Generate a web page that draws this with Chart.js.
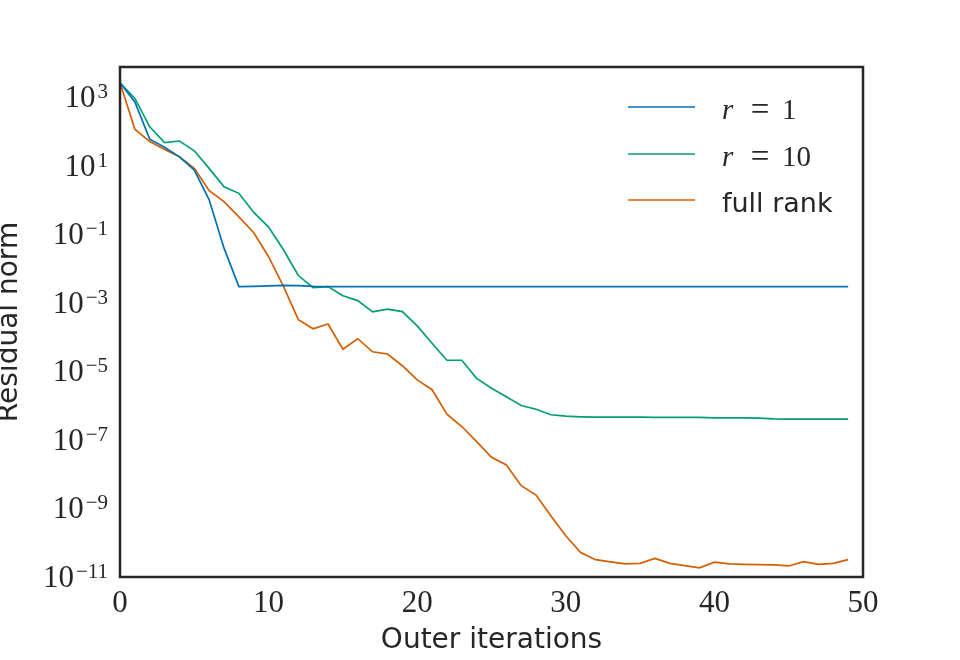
<!DOCTYPE html>
<html>
<head>
<meta charset="utf-8">
<script src="https://cdn.jsdelivr.net/npm/chart.js@4.4.1/dist/chart.umd.min.js"></script>
<style>
  html, body { margin: 0; padding: 0; background: #ffffff; }
  #wrap { width: 960px; height: 660px; position: relative; }
</style>
</head>
<body>
<div id="wrap"><canvas id="c" width="960" height="660"></canvas></div>
<script>
// ---- data ----
const iterations = Array.from({length: 50}, (_, i) => i); // 0..49 outer iterations
const seriesLabels = ['r = 1', 'r = 10', 'full rank'];
const rankOne = [2.6e3, 7.2e2, 5.9e1, 3.4e1, 1.8e1, 7.4, 1.0, 3.9e-2, 2.95e-3, 3.0e-3,
  3.1e-3, 3.2e-3, 3.15e-3, 3.0e-3, 2.95e-3, 2.95e-3, 2.95e-3, 2.95e-3, 2.95e-3, 2.95e-3,
  2.95e-3, 2.95e-3, 2.95e-3, 2.95e-3, 2.95e-3, 2.95e-3, 2.95e-3, 2.95e-3, 2.95e-3, 2.95e-3,
  2.95e-3, 2.95e-3, 2.95e-3, 2.95e-3, 2.95e-3, 2.95e-3, 2.95e-3, 2.95e-3, 2.95e-3, 2.95e-3,
  2.95e-3, 2.95e-3, 2.95e-3, 2.95e-3, 2.95e-3, 2.95e-3, 2.95e-3, 2.95e-3, 2.95e-3, 2.95e-3];
const rankTen = [2.6e3, 9.1e2, 1.35e2, 4.7e1, 5.2e1, 2.7e1, 8.3, 2.4, 1.55, 4.3e-1,
  1.6e-1, 3.5e-2, 6.2e-3, 2.75e-3, 2.95e-3, 1.6e-3, 1.15e-3, 5.4e-4, 6.5e-4, 5.5e-4,
  2.1e-4, 6.6e-5, 2.1e-5, 2.1e-5, 6.2e-6, 3.2e-6, 1.8e-6, 1.0e-6, 7.8e-7, 5.4e-7,
  4.9e-7, 4.7e-7, 4.6e-7, 4.6e-7, 4.6e-7, 4.6e-7, 4.5e-7, 4.5e-7, 4.5e-7, 4.5e-7,
  4.4e-7, 4.4e-7, 4.4e-7, 4.3e-7, 4.1e-7, 4.0e-7, 4.0e-7, 4.0e-7, 4.0e-7, 4.0e-7];
const fullRank = [2.6e3, 1.15e2, 5.0e1, 2.95e1, 1.8e1, 8.3, 1.86, 8.9e-1, 3.2e-1, 1.1e-1,
  2.2e-2, 3.0e-3, 3.2e-4, 1.74e-4, 2.4e-4, 4.4e-5, 8.9e-5, 3.7e-5, 3.2e-5, 1.45e-5,
  5.6e-6, 2.9e-6, 5.6e-7, 2.45e-7, 8.9e-8, 3.1e-8, 1.86e-8, 4.6e-9, 2.45e-9, 6.0e-10,
  1.6e-10, 5.2e-11, 3.2e-11, 2.75e-11, 2.4e-11, 2.5e-11, 3.5e-11, 2.5e-11, 2.15e-11, 1.86e-11,
  2.7e-11, 2.4e-11, 2.35e-11, 2.3e-11, 2.25e-11, 2.1e-11, 2.8e-11, 2.35e-11, 2.5e-11, 3.2e-11];
const xTicks = [0, 10, 20, 30, 40, 50];
const yTickExponents = [-11, -9, -7, -5, -3, -1, 1, 3];
const xTitle = 'Outer iterations';
const yTitle = 'Residual norm';

// ---- styles ----
const colors = ['#0072B2', '#009E73', '#D55E00'];
const textColor = '#262626';
const serif = "'Liberation Serif', 'DejaVu Serif', serif";
const sans = "'DejaVu Sans', 'Noto Sans', sans-serif";

function toPoints(arr) { return iterations.map((x, i) => ({x: x, y: arr[i]})); }
const seriesData = [rankOne, rankTen, fullRank];

// frame around the plot area
const framePlugin = {
  id: 'frame',
  afterDatasetsDraw(chart) {
    const a = chart.chartArea, ctx = chart.ctx;
    ctx.save();
    ctx.strokeStyle = textColor;
    ctx.lineWidth = 2.5;
    ctx.strokeRect(a.left, a.top, a.right - a.left, a.bottom - a.top);
    ctx.restore();
  }
};

// y tick labels as 10 with a raised exponent, placed at the scale's tick pixels
const logTickPlugin = {
  id: 'logTicks',
  afterDraw(chart) {
    const s = chart.scales.y, ctx = chart.ctx;
    const right = s.right - 12;
    ctx.save();
    ctx.fillStyle = textColor;
    ctx.textBaseline = 'alphabetic';
    ctx.textAlign = 'right';
    s.ticks.forEach(t => {
      const y = s.getPixelForValue(t.value);
      const e = Math.round(Math.log10(t.value));
      const expText = (e < 0 ? '\u2212' : '') + Math.abs(e);
      ctx.font = '21px ' + serif;
      const ew = ctx.measureText(expText).width;
      ctx.fillText(expText, right, y + 1);
      ctx.font = '31px ' + serif;
      ctx.fillText('10', right - ew - 2, y + 10);
    });
    ctx.restore();
  }
};

// legend inside the plot, upper right
const legendPlugin = {
  id: 'innerLegend',
  afterDraw(chart) {
    const ctx = chart.ctx;
    const x0 = 628, x1 = 695, tx = 722, rows = [107, 154, 200];
    chart.data.datasets.forEach((ds, i) => {
      const y = rows[i];
      ctx.save();
      ctx.strokeStyle = ds.borderColor;
      ctx.lineWidth = 1.7;
      ctx.beginPath(); ctx.moveTo(x0, y); ctx.lineTo(x1, y); ctx.stroke();
      ctx.fillStyle = textColor;
      ctx.textBaseline = 'alphabetic';
      ctx.textAlign = 'left';
      const lab = ds.label;
      const m = lab.match(/^r = (\d+)$/);
      if (m) {
        ctx.font = 'italic 29px ' + serif;
        ctx.fillText('r', tx, y + 12);
        ctx.font = '33px ' + serif;
        ctx.textAlign = 'center';
        ctx.fillText('=', 760, y + 13);
        ctx.textAlign = 'left';
        ctx.font = '29px ' + serif;
        ctx.fillText(m[1], 782, y + 12);
      } else {
        ctx.font = '27px ' + sans;
        ctx.fillText(lab, tx, y + 12);
      }
      ctx.restore();
    });
  }
};

new Chart(document.getElementById('c'), {
  type: 'line',
  data: {
    datasets: seriesLabels.map((lab, i) => ({
      label: lab,
      data: toPoints(seriesData[i]),
      borderColor: colors[i],
      backgroundColor: colors[i],
      borderWidth: 1.7,
      pointRadius: 0,
      tension: 0,
      fill: false
    }))
  },
  options: {
    responsive: false,
    animation: false,
    devicePixelRatio: 1,
    layout: { padding: { left: 0, right: 97, top: 67, bottom: 0 } },
    plugins: { legend: { display: false }, tooltip: { enabled: false } },
    scales: {
      x: {
        type: 'linear',
        min: 0, max: 50,
        grid: { display: false, drawTicks: false },
        border: { display: false },
        afterBuildTicks(scale) { scale.ticks = xTicks.map(v => ({value: v})); },
        afterFit(scale) { scale.height = 83; },
        ticks: { padding: 8, color: textColor, font: { family: serif, size: 31 }, maxRotation: 0 },
        title: { display: true, text: xTitle, color: textColor, font: { family: sans, size: 28 }, padding: { top: 0, bottom: 2 } }
      },
      y: {
        type: 'logarithmic',
        min: 1e-11, max: 7.5e3,
        grid: { display: false, drawTicks: false },
        border: { display: false },
        afterBuildTicks(scale) { scale.ticks = yTickExponents.map(e => ({value: Math.pow(10, e)})); },
        afterFit(scale) { scale.width = 120; },
        ticks: { display: false },
        title: { display: true, text: yTitle, color: textColor, font: { family: sans, size: 28 }, padding: { top: -7, bottom: 0 } }
      }
    }
  },
  plugins: [framePlugin, logTickPlugin, legendPlugin]
});
</script>
</body>
</html>
